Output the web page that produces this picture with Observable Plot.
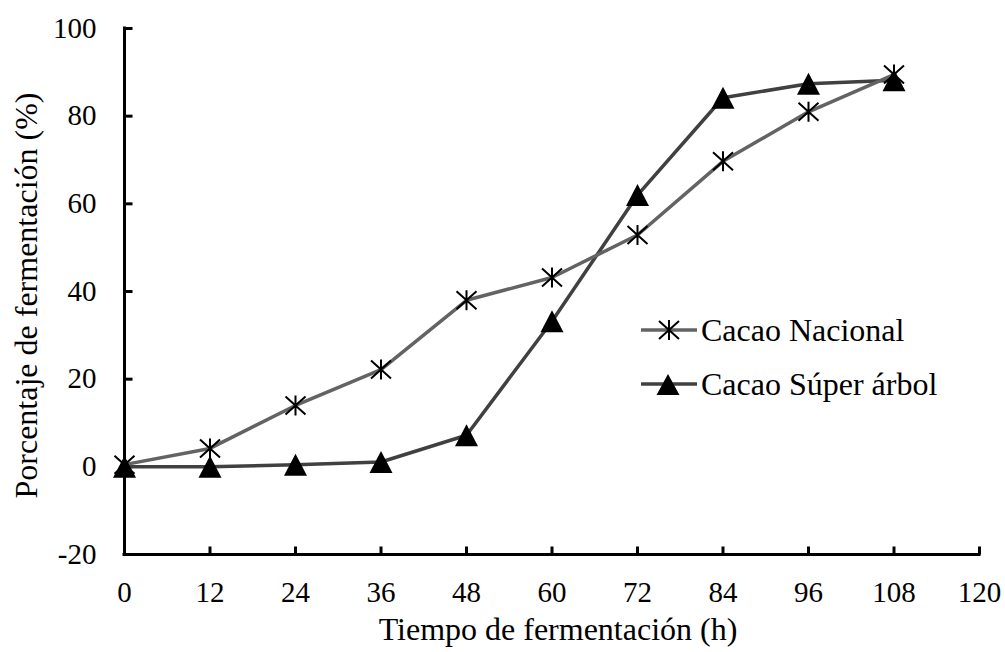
<!DOCTYPE html>
<html><head><meta charset="utf-8">
<script src="https://cdn.jsdelivr.net/npm/d3@7"></script>
<script src="https://cdn.jsdelivr.net/npm/@observablehq/plot@0.6"></script>
<style>
body{margin:0;background:#fff;font-family:'Liberation Serif'}
#chart{position:relative;width:1005px;height:652px}
svg text, svg tspan{font-family:'Liberation Serif' !important}
#legend{position:absolute;left:0;top:0;pointer-events:none}
</style>
</head><body><div id="chart"></div>
<script>
const hours = [0, 12, 24, 36, 48, 60, 72, 84, 96, 108];
const nacional = [0.5, 4.2, 14, 22.2, 38, 43.2, 52.9, 69.7, 81, 89.5];
const superArbol = [0, 0, 0.5, 1.1, 7.2, 33.2, 62, 84.2, 87.4, 88.2];
const xTicks = [0, 12, 24, 36, 48, 60, 72, 84, 96, 108, 120];
const yTicks = [-20, 0, 20, 40, 60, 80, 100];
const seriesNames = ["Cacao Nacional", "Cacao Súper árbol"];
const xTitle = "Tiempo de fermentación (h)";
const yTitle = "Porcentaje de fermentación (%)";

const FONT = "Liberation Serif";
const colNac = "#636363";
const colSup = "#404040";

const nacData = hours.map((h, i) => ({h, v: nacional[i]}));
const supData = hours.map((h, i) => ({h, v: superArbol[i]}));

const asterisk = {draw(c){c.moveTo(0,-10);c.lineTo(0,10);c.moveTo(-10,-9);c.lineTo(10,9);c.moveTo(-10,9);c.lineTo(10,-9);}};
const triangle = {draw(c){c.moveTo(0,-11);c.lineTo(11.5,11);c.lineTo(-11.5,11);c.closePath();}};
const tickRight = {draw(c){c.moveTo(0,0);c.lineTo(8,0);}};
const tickUp = {draw(c){c.moveTo(0,0);c.lineTo(0,-8);}};

const plot = Plot.plot({
  width: 1005,
  height: 652,
  marginLeft: 124,
  marginRight: 26,
  marginTop: 28,
  marginBottom: 98,
  style: {fontFamily: FONT, background: "#fff", color: "#000"},
  x: {domain: [0, 120]},
  y: {domain: [-20, 100]},
  marks: [
    Plot.axisX(xTicks, {tickSize: 0, tickPadding: 27, fontSize: 29, fontFamily: FONT, label: null, tickFormat: d => String(d)}),
    Plot.axisY(yTicks, {tickSize: 0, tickPadding: 28, fontSize: 29, fontFamily: FONT, label: null, tickFormat: d => String(d)}),
    Plot.ruleX([0], {y1: -20, y2: 100, stroke: "#000", strokeWidth: 3, strokeLinecap: "square"}),
    Plot.ruleY([-20], {x1: 0, x2: 120, stroke: "#000", strokeWidth: 3, strokeLinecap: "square"}),
    Plot.dot(yTicks, {x: () => 0, y: d => d, symbol: tickRight, stroke: "#000", strokeWidth: 3, fill: "none"}),
    Plot.dot(xTicks, {x: d => d, y: () => -20, symbol: tickUp, stroke: "#000", strokeWidth: 3, fill: "none"}),
    Plot.line(supData, {x: "h", y: "v", stroke: colSup, strokeWidth: 3.5}),
    Plot.line(nacData, {x: "h", y: "v", stroke: colNac, strokeWidth: 3.5}),
    Plot.dot(supData, {x: "h", y: "v", symbol: triangle, fill: "#000", stroke: "none"}),
    Plot.dot(nacData, {x: "h", y: "v", symbol: asterisk, stroke: "#000", strokeWidth: 2, fill: "none"}),
    Plot.text([xTitle], {frameAnchor: "bottom", dx: 6, dy: 85, lineAnchor: "bottom", textAnchor: "middle", fontSize: 32, fontFamily: FONT, fill: "#000"}),
    Plot.text([yTitle], {frameAnchor: "left", dx: -88, dy: 4, rotate: -90, lineAnchor: "bottom", textAnchor: "middle", fontSize: 32, fontFamily: FONT, fill: "#000"})
  ]
});

const chart = document.getElementById("chart");
chart.appendChild(plot);

// Legend overlay
const ns = "http://www.w3.org/2000/svg";
const lg = document.createElementNS(ns, "svg");
lg.setAttribute("id", "legend");
lg.setAttribute("width", 1005);
lg.setAttribute("height", 652);
const items = [
  {name: seriesNames[0], color: colNac, y: 330, marker: "M669,320V340M659,321L679,339M659,339L679,321", fill: "none"},
  {name: seriesNames[1], color: colSup, y: 384, marker: "M668,374L679.5,395L656.5,395Z", fill: "#000"}
];
for (const it of items) {
  const l = document.createElementNS(ns, "line");
  l.setAttribute("x1", 641); l.setAttribute("x2", 697);
  l.setAttribute("y1", it.y); l.setAttribute("y2", it.y);
  l.setAttribute("stroke", it.color); l.setAttribute("stroke-width", 3.5);
  lg.appendChild(l);
  const p = document.createElementNS(ns, "path");
  p.setAttribute("d", it.marker);
  p.setAttribute("fill", it.fill);
  p.setAttribute("stroke", it.fill === "none" ? "#000" : "none");
  p.setAttribute("stroke-width", 2);
  lg.appendChild(p);
  const t = document.createElementNS(ns, "text");
  t.setAttribute("x", 701); t.setAttribute("y", it.y + 11);
  t.setAttribute("font-family", FONT);
  t.setAttribute("font-size", 32);
  t.textContent = it.name;
  lg.appendChild(t);
}
chart.appendChild(lg);
</script>
</body></html>
